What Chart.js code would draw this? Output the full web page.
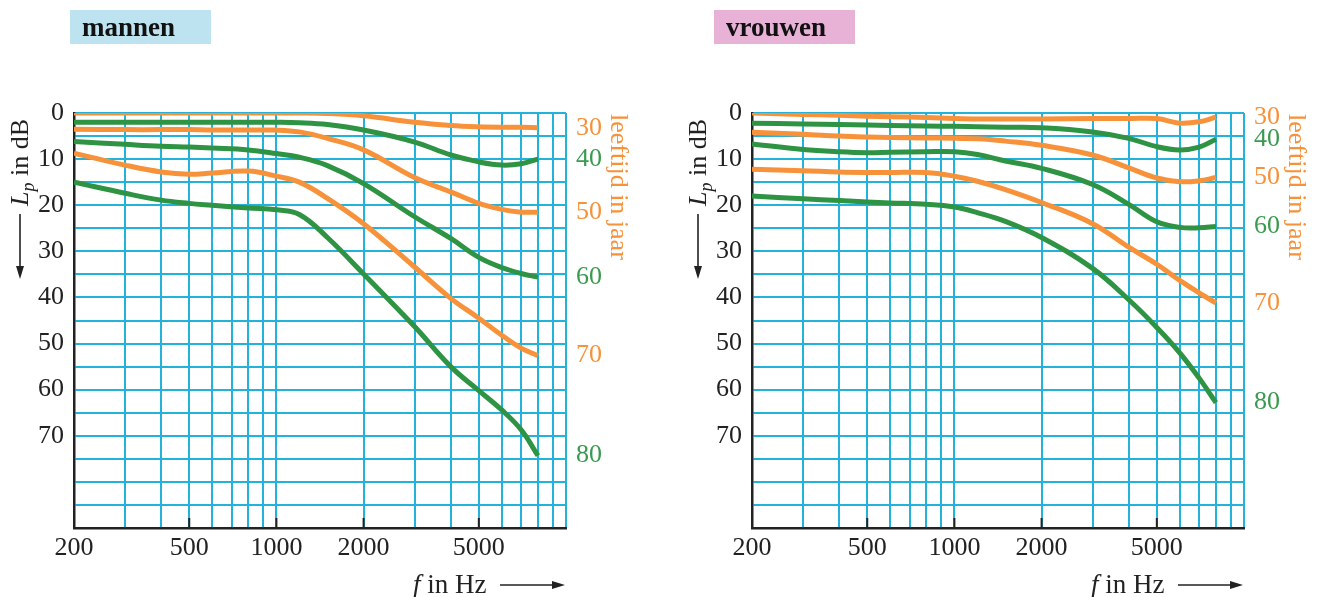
<!DOCTYPE html>
<html>
<head>
<meta charset="utf-8">
<script src="https://cdn.jsdelivr.net/npm/chart.js@4"></script>
<style>
  body { margin: 0; background: #fff; }
  canvas { position: absolute; top: 0; display: block; }
  #men { left: 0; }
  #women { left: 660px; }
</style>
</head>
<body>
<canvas id="men" width="660" height="597"></canvas>
<canvas id="women" width="660" height="597"></canvas>
<script>
const FREQS = [200, 300, 400, 500, 600, 800, 1000, 1200, 1500, 2000, 3000, 4000, 5000, 6000, 7000, 8000]
const AGES = [30, 40, 50, 60, 70, 80]

// hearing loss Lp in dB, men
const MEN_30 = [0, 0, 0, 0, 0, 0, 0, 0, 0.1, 0.6, 2, 2.7, 3, 3.1, 3.1, 3.2]
const MEN_40 = [2, 2, 2, 2, 2, 2, 2, 2.1, 2.5, 3.7, 6.3, 9.1, 10.6, 11.3, 11, 10]
const MEN_50 = [3.5, 3.6, 3.6, 3.6, 3.7, 3.7, 3.7, 4.1, 5.5, 8, 14, 17.1, 19.6, 20.9, 21.5, 21.5]
const MEN_60 = [6.2, 6.8, 7.2, 7.4, 7.6, 8, 8.8, 9.6, 11.4, 15.3, 22.5, 27.2, 31.3, 33.5, 34.8, 35.6]
const MEN_70 = [8.7, 11.3, 12.8, 13.3, 13, 12.6, 13.7, 15, 18.5, 24, 33.4, 40.2, 44.5, 48.2, 51, 52.6]
const MEN_80 = [15, 17.4, 18.9, 19.6, 20, 20.6, 21, 22, 27, 34.9, 46.3, 55, 60.2, 64.4, 68.7, 74.3]

// women
const WOMEN_30 = [0, 0.3, 0.5, 0.7, 0.8, 1, 1.2, 1.3, 1.3, 1.3, 1.2, 1.2, 1.2, 2.2, 1.9, 0.9]
const WOMEN_40 = [2.2, 2.4, 2.5, 2.6, 2.7, 2.8, 2.9, 3, 3.1, 3.2, 4.1, 5.5, 7.3, 8, 7.4, 5.7]
const WOMEN_50 = [4.2, 4.6, 5, 5.2, 5.3, 5.4, 5.5, 5.6, 6.1, 7, 9.1, 11.9, 14.1, 14.9, 14.7, 14]
const WOMEN_60 = [6.7, 7.9, 8.4, 8.6, 8.5, 8.4, 8.4, 9, 10.4, 12, 15.5, 19.8, 23.6, 24.8, 24.9, 24.6]
const WOMEN_70 = [12.2, 12.5, 12.8, 12.9, 12.9, 12.9, 13.7, 14.8, 16.6, 19.4, 24, 29.1, 32.8, 36.3, 39, 41.2]
const WOMEN_80 = [18, 18.6, 19, 19.3, 19.5, 19.8, 20.4, 21.6, 23.5, 27, 33.7, 40.5, 46.5, 52, 57.5, 62.8]

// axes
const GRID_FREQS = [200, 300, 400, 500, 600, 700, 800, 900, 1000, 2000, 3000, 4000, 5000, 6000, 7000, 8000, 9000, 10000]
const FREQ_LABELS = [200, 500, 1000, 2000, 5000]
const DB_LABELS = [0, 10, 20, 30, 40, 50, 60, 70]

const ORANGE = '#f7923a'
const GREEN = '#2e9343'
const GRID = '#22b2da'
const INK = '#222'
const SERIF = '"Liberation Serif", "DejaVu Serif", serif'

function makeDatasets(series) {
  return series.map(function(vals, i) {
    return {
      label: AGES[i] + ' jaar',
      data: FREQS.map((f, j) => ({x: f, y: vals[j]})),
      borderColor: i % 2 ? GREEN : ORANGE,
      borderWidth: 5,
      pointRadius: 0,
      fill: false,
      tension: 0.4
    }
  })
}

function arrow(ctx, x1, y1, x2, y2) {
  const ang = Math.atan2(y2 - y1, x2 - x1)
  ctx.strokeStyle = INK
  ctx.fillStyle = INK
  ctx.lineWidth = 1.6
  ctx.beginPath()
  ctx.moveTo(x1, y1)
  ctx.lineTo(x2 - 8 * Math.cos(ang), y2 - 8 * Math.sin(ang))
  ctx.stroke()
  ctx.beginPath()
  ctx.moveTo(x2, y2)
  ctx.lineTo(x2 - 13 * Math.cos(ang) + 4 * Math.sin(ang), y2 - 13 * Math.sin(ang) - 4 * Math.cos(ang))
  ctx.lineTo(x2 - 13 * Math.cos(ang) - 4 * Math.sin(ang), y2 - 13 * Math.sin(ang) + 4 * Math.cos(ang))
  ctx.closePath()
  ctx.fill()
}

function decor(p) {
  return {
    id: 'decor',
    afterDraw(chart) {
      const ctx = chart.ctx
      const a = chart.chartArea
      const xs = chart.scales.x
      const ys = chart.scales.y
      ctx.save()

      // title box
      ctx.fillStyle = p.boxColor
      ctx.fillRect(p.boxX, 10, p.boxW, 34)
      ctx.fillStyle = '#111'
      ctx.font = 'bold 27px ' + SERIF
      ctx.textAlign = 'left'
      ctx.textBaseline = 'alphabetic'
      ctx.fillText(p.title, p.boxX + 12, 36)

      // small black ticks on the f axis
      ctx.strokeStyle = INK
      ctx.lineWidth = 2
      FREQ_LABELS.slice(1).forEach(function(f) {
        const px = xs.getPixelForValue(f)
        ctx.beginPath()
        ctx.moveTo(px, a.bottom)
        ctx.lineTo(px, a.bottom - 10)
        ctx.stroke()
      })

      // y title: L_p in dB with arrow
      ctx.save()
      ctx.translate(a.left - 46, 206)
      ctx.rotate(-Math.PI / 2)
      ctx.fillStyle = INK
      ctx.font = 'italic 26px ' + SERIF
      ctx.fillText('L', 0, 0)
      let w = ctx.measureText('L').width
      ctx.font = 'italic 18px ' + SERIF
      ctx.fillText('p', w, 6)
      w += ctx.measureText('p').width
      ctx.font = '26px ' + SERIF
      ctx.fillText(' in dB', w, 0)
      ctx.restore()
      arrow(ctx, a.left - 54, 214, a.left - 54, 279)

      // x title: f in Hz with arrow
      ctx.fillStyle = INK
      ctx.font = 'italic 27px ' + SERIF
      ctx.fillText('f', a.right - 153, 593)
      const fw = ctx.measureText('f').width
      ctx.font = '27px ' + SERIF
      ctx.fillText(' in Hz', a.right - 153 + fw, 593)
      arrow(ctx, a.right - 66, 585, a.right - 1, 585)

      // age labels at the end of each curve
      ctx.font = '26px ' + SERIF
      ctx.textBaseline = 'middle'
      chart.data.datasets.forEach(function(ds, i) {
        const last = ds.data[ds.data.length - 1]
        ctx.fillStyle = i % 2 ? '#3a9a50' : ORANGE
        ctx.fillText(String(AGES[i]), a.right + 10, ys.getPixelForValue(last.y))
      })

      // leeftijd in jaar
      ctx.save()
      ctx.translate(a.right + 52, 114)
      ctx.rotate(Math.PI / 2)
      ctx.fillStyle = ORANGE
      ctx.font = '26px ' + SERIF
      ctx.textBaseline = 'middle'
      ctx.fillText('leeftijd in jaar', 0, 0)
      ctx.restore()

      ctx.restore()
    }
  }
}

function makeChart(id, series, p) {
  const ctx = document.getElementById(id).getContext('2d')
  return new Chart(ctx, {
    type: 'line',
    data: { datasets: makeDatasets(series) },
    options: {
      responsive: false,
      animation: false,
      devicePixelRatio: 1,
      layout: { padding: { left: 0, top: 113, right: 660 - p.plotRight, bottom: 0 } },
      plugins: { legend: { display: false }, tooltip: { enabled: false } },
      scales: {
        x: {
          type: 'logarithmic',
          min: 200,
          max: 10000,
          afterBuildTicks: function(s) { s.ticks = GRID_FREQS.map(v => ({ value: v })) },
          afterFit: function(s) { s.height = 597 - 528 },
          ticks: {
            autoSkip: false,
            maxRotation: 0,
            padding: 5,
            color: INK,
            font: { family: SERIF, size: 26 },
            callback: v => FREQ_LABELS.includes(v) ? String(v) : ''
          },
          grid: {
            drawTicks: false,
            lineWidth: 2,
            color: c => c.tick && c.tick.value === 200 ? 'rgba(0,0,0,0)' : GRID
          },
          border: { color: INK, width: 2.5 }
        },
        y: {
          type: 'linear',
          min: 0,
          max: 90,
          reverse: true,
          afterBuildTicks: function(s) {
            const t = []
            for (let v = 0; v <= 90; v += 5) t.push({ value: v })
            s.ticks = t
          },
          afterFit: function(s) { s.width = p.plotLeft },
          ticks: {
            autoSkip: false,
            padding: 10,
            color: INK,
            font: { family: SERIF, size: 26 },
            callback: v => DB_LABELS.includes(v) ? String(v) : ''
          },
          grid: {
            drawTicks: false,
            lineWidth: 2,
            color: c => c.tick && c.tick.value === 90 ? 'rgba(0,0,0,0)' : GRID
          },
          border: { color: INK, width: 2.5 }
        }
      }
    },
    plugins: [decor(p)]
  })
}

makeChart('men', [MEN_30, MEN_40, MEN_50, MEN_60, MEN_70, MEN_80],
  { title: 'mannen', boxColor: '#bee3f0', boxX: 70, boxW: 141, plotLeft: 74, plotRight: 566 })
makeChart('women', [WOMEN_30, WOMEN_40, WOMEN_50, WOMEN_60, WOMEN_70, WOMEN_80],
  { title: 'vrouwen', boxColor: '#e8b1d6', boxX: 54, boxW: 141, plotLeft: 92, plotRight: 584 })
</script>
</body>
</html>
